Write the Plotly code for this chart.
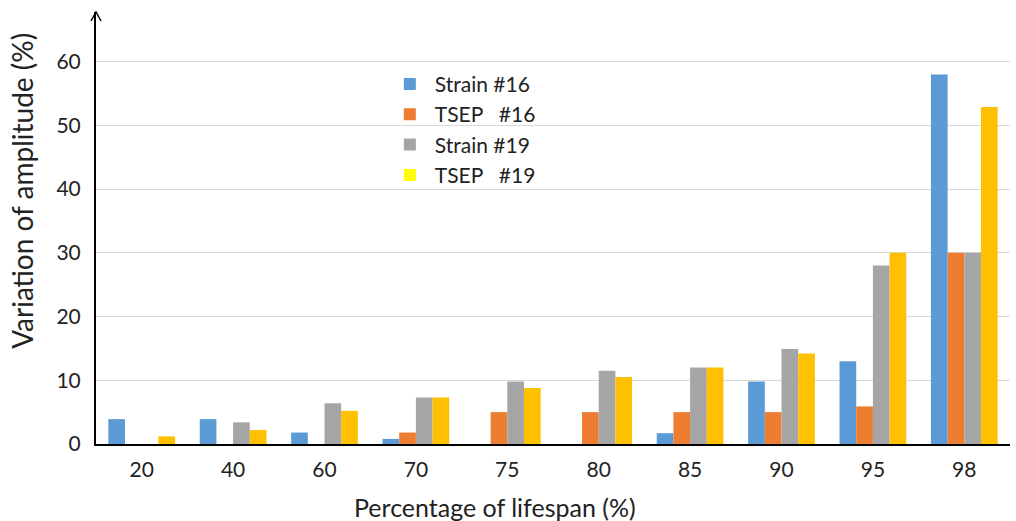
import plotly.graph_objects as go

categories = ["20", "40", "60", "70", "75", "80", "85", "90", "95", "98"]
strain16 = [3.9, 3.9, 1.8, 0.8, None, None, 1.7, 9.8, 13.0, 58.0]
tsep16 = [None, None, None, 1.8, 5.0, 5.0, 5.0, 5.0, 5.9, 30.0]
strain19 = [None, 3.4, 6.4, 7.3, 9.8, 11.5, 12.0, 14.9, 28.0, 30.0]
tsep19 = [1.2, 2.2, 5.2, 7.3, 8.8, 10.5, 12.0, 14.2, 30.0, 52.9]

series_names = ["Strain #16", "TSEP   #16", "Strain #19", "TSEP   #19"]
bar_colors = ["#5B9BD5", "#ED7D31", "#A5A5A5", "#FFC000"]
legend_colors = ["#5B9BD5", "#ED7D31", "#A5A5A5", "#FFFF00"]

FONT = "Lato, 'Open Sans', sans-serif"

fig = go.Figure()
for name, vals, col in zip(series_names, [strain16, tsep16, strain19, tsep19], bar_colors):
    fig.add_trace(go.Bar(x=categories, y=vals, name=name, marker=dict(color=col, line=dict(width=0)),
                         showlegend=False))
for name, col in zip(series_names, legend_colors):
    fig.add_trace(go.Scatter(x=[None], y=[None], mode="markers", name=name,
                             marker=dict(symbol="square", size=14, color=col)))

fig.update_layout(
    width=1016, height=521,
    margin=dict(l=96, r=6, t=12, b=77, autoexpand=False),
    paper_bgcolor="white", plot_bgcolor="white",
    barmode="group", bargap=0.27, bargroupgap=0,
    font=dict(family=FONT, size=21, color="#222222"),
    legend=dict(x=0.316, y=0.88, xanchor="left", yanchor="top",
                bgcolor="rgba(0,0,0,0)", font=dict(size=21), tracegroupgap=0,
                itemsizing="constant", itemwidth=40),
    xaxis=dict(type="category", showline=True, linecolor="black", linewidth=2,
               ticks="outside", ticklen=6, tickcolor="rgba(0,0,0,0)",
               showgrid=False, tickfont=dict(size=21), zeroline=False,
               range=[-0.5, 9.5]),
    yaxis=dict(range=[0, 67.8], tickvals=[0, 10, 20, 30, 40, 50, 60],
               showline=True, linecolor="black", linewidth=2,
               showgrid=True, gridcolor="#D9D9D9", gridwidth=1, zeroline=False,
               ticks="outside", ticklen=9, tickcolor="rgba(0,0,0,0)",
               tickfont=dict(size=21)),
    annotations=[
        dict(text="Percentage of lifespan (%)", xref="paper", yref="paper",
             x=0.437, y=0, yshift=-63, xanchor="center", yanchor="middle",
             showarrow=False, font=dict(size=25)),
        dict(text="Variation of amplitude (%)", xref="paper", yref="paper",
             x=0, xshift=-74, y=0.586, xanchor="center", yanchor="middle",
             textangle=-90, showarrow=False, font=dict(size=28)),
    ],
    shapes=[dict(type="path", xref="paper", yref="paper", xsizemode="pixel", ysizemode="pixel",
                 xanchor=0, yanchor=1, path="M -5,-9 L 0,0 L 5,-9",
                 line=dict(color="black", width=1.5))],
)

fig.write_html("out.html", post_script="document.body.style.margin='0';",
               config={"displayModeBar": False})
